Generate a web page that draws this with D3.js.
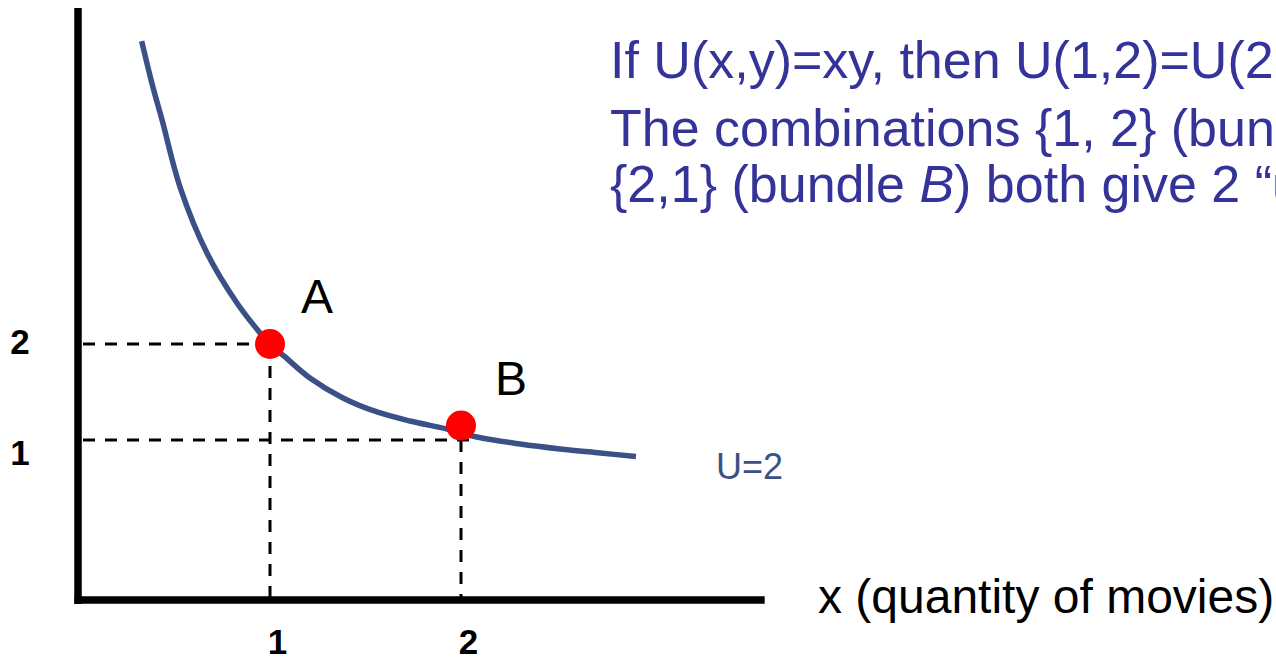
<!DOCTYPE html>
<html>
<head>
<meta charset="utf-8">
<script src="https://cdn.jsdelivr.net/npm/d3@7"></script>
<style>
  html, body { margin: 0; padding: 0; background: #ffffff; }
  svg { display: block; }
  text { font-family: "Liberation Sans", Arial, Helvetica, sans-serif; }
</style>
</head>
<body>
<svg id="chart" width="1276" height="660"></svg>
<script>
// ---- data (in chart units) ----
const curveX = [0.328, 0.387, 0.435, 0.529, 0.670, 0.827, 0.948, 1.000, 1.079, 1.209, 1.382, 1.560, 1.733, 1.927, 2.084, 2.309, 2.518, 2.728, 2.916];
const curveY = [5.156, 4.677, 4.333, 3.635, 2.948, 2.427, 2.115, 2.000, 1.865, 1.646, 1.438, 1.292, 1.198, 1.115, 1.031, 0.975, 0.944, 0.919, 0.897];
const bundleNames = ["A", "B"];
const bundleX = [1, 2];
const bundleY = [2, 1.15];
const guideX = [1, 2];
const guideY = [2, 1];
const xTickValues = [1, 2];
const yTickValues = [1, 2];
const xTickLabels = ["1", "2"];
const yTickLabels = ["1", "2"];
const axisExtentX = 3.59;
const axisExtentY = 5.5;
const curveLabel = "U=2";
const xAxisTitle = "x (quantity of movies)";
const titleLine1 = "If U(x,y)=xy, then U(1,2)=U(2,1)=2";
const titleLine2 = "The combinations {1, 2} (bundle A) and";
const titleLine3a = "{2,1} (bundle ";
const titleLine3b = "B";
const titleLine3c = ") both give 2 \u201Cutils\u201D";

// ---- scales ----
const svg = d3.select("#chart");
const x = d3.scaleLinear().domain([1, 2]).range([270, 461]);
const y = d3.scaleLinear().domain([0, 1, 2]).range([600, 440, 344]);

const axisColor = "#000000";
const curveColor = "#3c5088";
const titleColor = "#333399";
const tickFont = 35;

// ---- dashed guides ----
const guides = svg.append("g").attr("stroke", "#000").attr("stroke-width", 3)
  .attr("stroke-dasharray", "12,10").attr("fill", "none");
guideX.forEach((gx, i) => {
  const gy = guideY[i];
  guides.append("line")
    .attr("x1", x(0) + 4).attr("x2", x(gx) + (i === 1 ? 14 : 0))
    .attr("y1", y(gy)).attr("y2", y(gy));
  guides.append("line")
    .attr("x1", x(gx)).attr("x2", x(gx))
    .attr("y1", y(gy)).attr("y2", y(0) - 3);
});

// ---- axes (frame lines) ----
svg.append("line")
  .attr("x1", x(0) - 1).attr("x2", x(0) - 1)
  .attr("y1", y(axisExtentY)).attr("y2", y(0) + 4)
  .attr("stroke", axisColor).attr("stroke-width", 7.5);
svg.append("line")
  .attr("x1", x(0) - 4.5).attr("x2", x(axisExtentX))
  .attr("y1", y(0)).attr("y2", y(0))
  .attr("stroke", axisColor).attr("stroke-width", 7.5);

// tick labels via d3 axes
const xAxis = d3.axisBottom(x).tickValues(xTickValues)
  .tickFormat((d, i) => xTickLabels[i]).tickSize(0).tickPadding(0);
const gx = svg.append("g").attr("transform", `translate(0,${y(0)})`).call(xAxis);
gx.select(".domain").remove();
gx.selectAll("text").attr("dx", 7).attr("y", 54).attr("dy", 0)
  .attr("font-size", tickFont).attr("font-weight", "bold")
  .attr("fill", "#000").attr("font-family", '"Liberation Sans", Arial, sans-serif');

const yAxis = d3.axisLeft(y).tickValues(yTickValues)
  .tickFormat((d, i) => yTickLabels[i]).tickSize(0).tickPadding(50);
const gy = svg.append("g").attr("transform", `translate(${x(0)},0)`).call(yAxis);
gy.select(".domain").remove();
gy.selectAll("text").attr("text-anchor", "middle").attr("x", 20 - x(0))
  .attr("dy", d => d === 1 ? 24 : 9)
  .attr("font-size", tickFont).attr("font-weight", "bold")
  .attr("fill", "#000").attr("font-family", '"Liberation Sans", Arial, sans-serif');

// ---- indifference curve ----
const pts = curveX.map((cx, i) => [cx, curveY[i]]);
const line = d3.line().x(d => x(d[0])).y(d => y(d[1])).curve(d3.curveCatmullRom.alpha(0.5));
svg.append("path").datum(pts)
  .attr("d", line)
  .attr("fill", "none")
  .attr("stroke", curveColor)
  .attr("stroke-width", 5.5);

// ---- bundles ----
svg.selectAll("circle.bundle").data(bundleX).join("circle")
  .attr("class", "bundle")
  .attr("cx", d => x(d))
  .attr("cy", (d, i) => y(bundleY[i]))
  .attr("r", 15)
  .attr("fill", "#ff0000");

svg.selectAll("text.bundle-label").data(bundleNames).join("text")
  .attr("class", "bundle-label")
  .attr("x", (d, i) => x(bundleX[i]) + (i === 0 ? 31 : 34))
  .attr("y", (d, i) => y(bundleY[i]) - 31)
  .attr("font-size", 48)
  .attr("fill", "#000")
  .text(d => d);

// curve label
const last = pts[pts.length - 1];
svg.append("text")
  .attr("x", x(last[0]) + 80)
  .attr("y", y(last[1]) + 23)
  .attr("font-size", 36)
  .attr("fill", curveColor)
  .text(curveLabel);

// x axis title
svg.append("text")
  .attr("x", 818).attr("y", 613)
  .attr("font-size", 48)
  .attr("fill", "#000")
  .text(xAxisTitle);

// ---- explanatory text ----
const t = svg.append("g").attr("fill", titleColor).attr("font-size", 52);
t.append("text").attr("x", 610).attr("y", 78).text(titleLine1);
t.append("text").attr("x", 610).attr("y", 146).text(titleLine2);
const l3 = t.append("text").attr("x", 610).attr("y", 202);
l3.append("tspan").text(titleLine3a);
l3.append("tspan").attr("font-style", "italic").text(titleLine3b);
l3.append("tspan").text(titleLine3c);
</script>
</body>
</html>
